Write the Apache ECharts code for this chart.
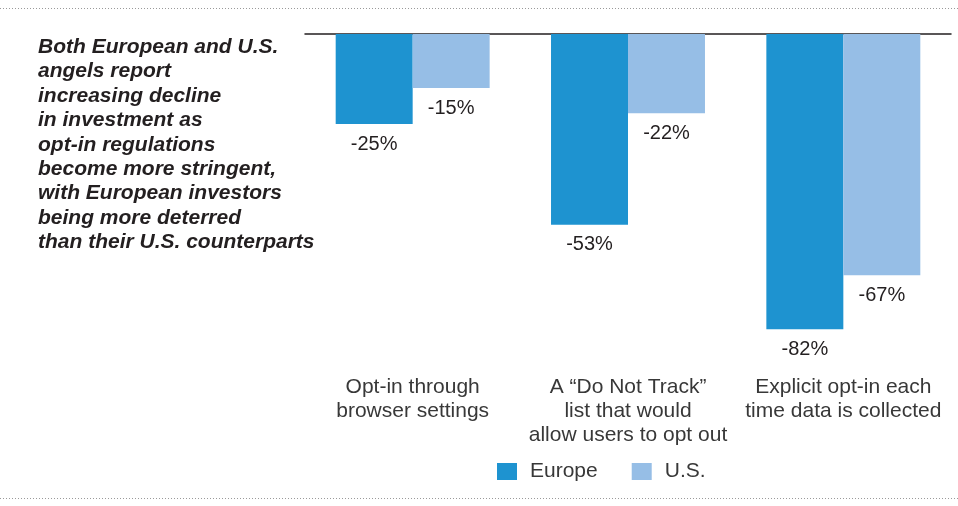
<!DOCTYPE html>
<html>
<head>
<meta charset="utf-8">
<script src="https://cdn.jsdelivr.net/npm/echarts@6/dist/echarts.min.js"></script>
<style>
  html, body { margin: 0; padding: 0; background: #fff; }
  #chart { width: 958px; height: 506px; }
</style>
</head>
<body>
<div id="chart"></div>
<script>
// Survey categories and the reported change in angel investment (%)
const categories = [
  'Opt-in through\nbrowser settings',
  'A \u201cDo Not Track\u201d\nlist that would\nallow users to opt out',
  'Explicit opt-in each\ntime data is collected'
];
const europe = [-25, -53, -82];
const us = [-15, -22, -67];
const seriesNames = ['Europe', 'U.S.'];
const headline = 'Both European and U.S.\nangels report\nincreasing decline\nin investment as\nopt-in regulations\nbecome more stringent,\nwith European investors\nbeing more deterred\nthan their U.S. counterparts';

const FONT = '"Liberation Sans", Arial, Helvetica, sans-serif';
const TEXT = '#383838';
const chart = echarts.init(document.getElementById('chart'), null, { renderer: 'canvas' });

const valueLabel = {
  show: true,
  position: 'bottom',
  distance: 10,
  formatter: '{c}%',
  fontFamily: FONT,
  fontSize: 20,
  color: '#231f20'
};

chart.setOption({
  animation: false,
  backgroundColor: '#ffffff',
  title: {
    text: headline,
    left: 33,
    top: 30,
    textStyle: {
      fontFamily: FONT,
      fontSize: 21,
      fontWeight: 'bold',
      fontStyle: 'italic',
      color: '#231f20',
      lineHeight: 24.4
    }
  },
  legend: {
    data: seriesNames,
    left: 492,
    top: 456,
    icon: 'rect',
    itemWidth: 20,
    itemHeight: 17,
    itemGap: 34,
    textStyle: {
      fontFamily: FONT,
      fontSize: 21,
      color: TEXT,
      padding: [0, 0, 0, 8]
    }
  },
  grid: { left: 305, right: 7, top: 34, bottom: 140.8 },
  xAxis: [
    {
      type: 'category',
      data: categories,
      position: 'bottom',
      axisLine: { show: false },
      axisTick: { show: false },
      axisLabel: {
        margin: 10,
        fontFamily: FONT,
        fontSize: 21,
        lineHeight: 24,
        color: TEXT,
        interval: 0
      }
    },
    {
      type: 'category',
      data: categories,
      position: 'top',
      axisLine: { show: true, onZero: false, lineStyle: { color: '#231f20', width: 1.5 } },
      axisTick: { show: false },
      axisLabel: { show: false }
    }
  ],
  yAxis: {
    type: 'value',
    min: -92,
    max: 0,
    show: false,
    splitLine: { show: false }
  },
  series: [
    {
      name: seriesNames[0],
      type: 'bar',
      data: europe,
      barGap: '0%',
      barCategoryGap: '28.5%',
      itemStyle: { color: '#1e93d0' },
      label: valueLabel
    },
    {
      name: seriesNames[1],
      type: 'bar',
      data: us,
      barGap: '0%',
      barCategoryGap: '28.5%',
      itemStyle: { color: '#96bee6' },
      label: valueLabel
    }
  ],
  graphic: [
    {
      type: 'line',
      shape: { x1: 0, y1: 8.5, x2: 958, y2: 8.5 },
      style: { stroke: '#9a9a9a', lineWidth: 1, lineDash: [1, 2] }
    },
    {
      type: 'line',
      shape: { x1: 0, y1: 498.5, x2: 958, y2: 498.5 },
      style: { stroke: '#9a9a9a', lineWidth: 1, lineDash: [1, 2] }
    }
  ]
});
</script>
</body>
</html>
